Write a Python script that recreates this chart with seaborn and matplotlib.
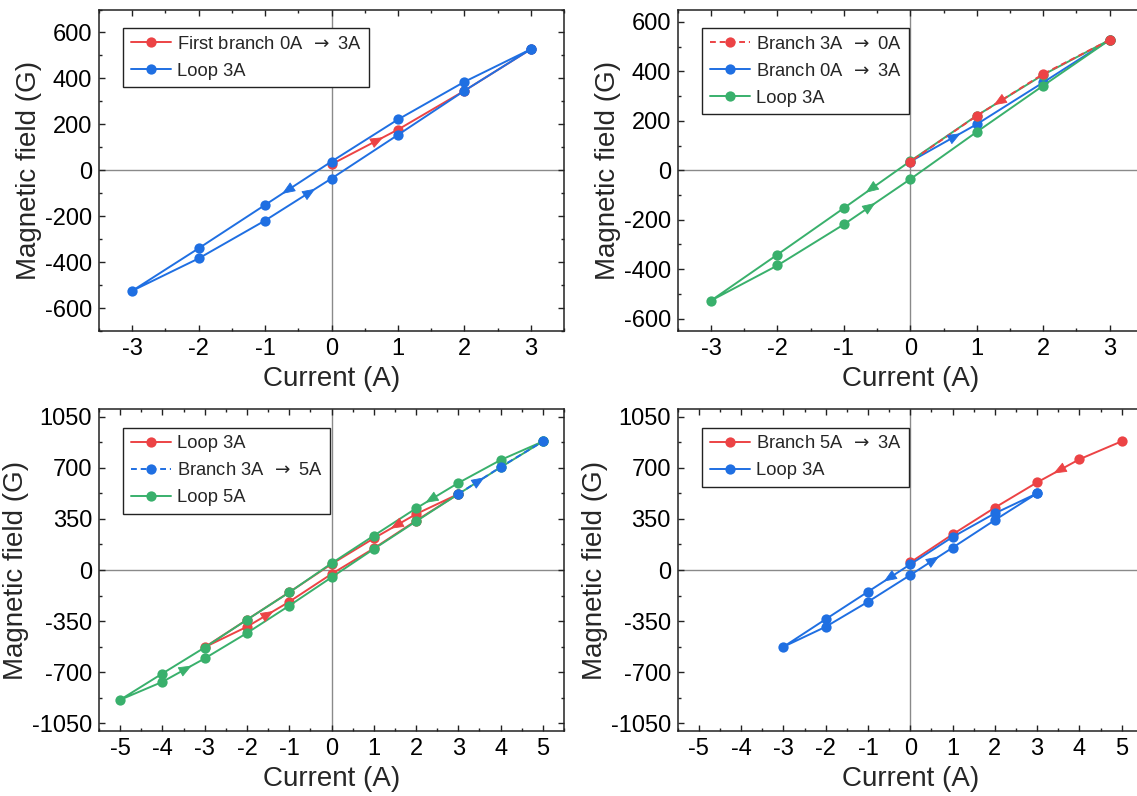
import numpy as np
import pandas as pd
import matplotlib
matplotlib.use("Agg")
import matplotlib.pyplot as plt
import seaborn as sns
from matplotlib.ticker import MultipleLocator

# ---------------------------------------------------------------- data
# Current sweep sequences (A)
loop3_current = [3, 2, 1, 0, -1, -2, -3, -2, -1, 0, 1, 2, 3]
loop5_current = [5, 4, 3, 2, 1, 0, -1, -2, -3, -4, -5, -4, -3, -2, -1, 0, 1, 2, 3, 4, 5]

# (a) first magnetisation branch and 3 A loop (G)
a_first_current = [0, 1, 2, 3]
a_first_field = [26, 177, 346, 527]
a_loop3_field = [527, 385, 221, 38, -151, -340, -525, -384, -219, -36, 154, 346, 527]

# (b) 3 A -> 0 A, 0 A -> 3 A branches and 3 A loop (G)
b_down_current = [3, 2, 1, 0]
b_down_field = [527, 389, 220, 35]
b_up_current = [0, 1, 2, 3]
b_up_field = [35, 186, 355, 527]
b_loop3_field = [527, 386, 221, 37, -153, -341, -527, -385, -219, -36, 155, 342, 527]

# (c) 3 A loop, 3 A -> 5 A branch and 5 A loop (G)
c_loop3_field = [520, 383, 217, 41, -152, -340, -528, -388, -217, -27, 148, 338, 520]
c_branch_current = [3, 4, 5]
c_branch_field = [520, 705, 880]
c_loop5_field = [880, 753, 596, 422, 235, 46, -153, -340, -530, -708, -888,
                 -765, -605, -431, -244, -50, 144, 333, 520, 703, 880]

# (d) 5 A -> 3 A branch and 3 A loop (G)
d_branch_current = [5, 4, 3, 2, 1, 0]
d_branch_field = [881, 758, 600, 427, 244, 52]
d_loop3_field = [525, 388, 226, 39, -148, -336, -525, -388, -217, -34, 153, 342, 525]

ARROW = r" $\,\rightarrow$ "
RED, BLUE, GREEN = "#EC4345", "#1F6FE2", "#39B06C"

# ---------------------------------------------------------------- style
sns.set_theme(style="ticks")
plt.rcParams["font.family"] = ["Liberation Sans", "DejaVu Sans"]
plt.rcParams["axes.unicode_minus"] = False
plt.rcParams["mathtext.fontset"] = "dejavusans"

fig = plt.figure(figsize=(11.37, 7.96), dpi=100)
W, H = 1137.0, 796.0


def make_axes(left_px, top_px, width_px=465.0, height_px=321.5):
    return fig.add_axes([left_px / W, 1 - (top_px + height_px) / H,
                         width_px / W, height_px / H])


def style_axes(ax, xlim, ylim, xmaj, ymaj):
    ax.set_xlim(*xlim)
    ax.set_ylim(*ylim)
    ax.xaxis.set_major_locator(MultipleLocator(xmaj))
    ax.xaxis.set_minor_locator(MultipleLocator(xmaj / 2))
    ax.yaxis.set_major_locator(MultipleLocator(ymaj))
    ax.yaxis.set_minor_locator(MultipleLocator(ymaj / 2))
    ax.tick_params(which="both", direction="in", top=True, right=True,
                   colors="#222222", width=1.0, labelsize=17, pad=5,
                   labelcolor="black")
    ax.tick_params(which="major", length=4.2)
    ax.tick_params(which="minor", length=2.4)
    for sp in ax.spines.values():
        sp.set_visible(True)
        sp.set_color("#222222")
        sp.set_linewidth(1.1)
    ax.axhline(0, color="#8a8a8a", lw=1.0, zorder=0.5)
    ax.axvline(0, color="#8a8a8a", lw=1.0, zorder=0.5)
    ax.set_xlabel("Current (A)", fontsize=20, labelpad=4.5)
    ax.set_ylabel("Magnetic field (G)", fontsize=20, labelpad=2)


def draw(ax, current, field, color, label, ls="-"):
    df = pd.DataFrame({"Current (A)": current, "Magnetic field (G)": field})
    sns.lineplot(data=df, x="Current (A)", y="Magnetic field (G)", sort=False,
                 estimator=None, ax=ax, color=color, linestyle=ls, lw=1.4,
                 marker="o", markersize=7.4, markeredgewidth=0,
                 markerfacecolor=color, label=label, legend=False)


def arrow(ax, current, field, seg, t, color):
    # filled triangular head sitting on segment `seg` at fraction t
    x0, y0 = current[seg], field[seg]
    x1, y1 = current[seg + 1], field[seg + 1]
    cx, cy = x0 + t * (x1 - x0), y0 + t * (y1 - y0)
    tr = ax.transData
    p0 = tr.transform((x0, y0))
    p1 = tr.transform((x1, y1))
    pc = tr.transform((cx, cy))
    d = (p1 - p0) / np.hypot(*(p1 - p0))
    tip = tr.inverted().transform(pc + 6.0 * d)
    tail = tr.inverted().transform(pc - 6.0 * d)
    ax.annotate("", xy=tip, xytext=tail,
                arrowprops=dict(arrowstyle="-|>,head_length=0.8,head_width=0.32",
                                mutation_scale=10.5, color=color, lw=0.6,
                                shrinkA=0, shrinkB=0), zorder=5)


def legend(ax, order):
    handles, labels = ax.get_legend_handles_labels()
    lut = dict(zip(labels, handles))
    lg = ax.legend([lut[k] for k in order], order, loc="upper left",
                   bbox_to_anchor=(0.052, 0.943), borderaxespad=0,
                   fontsize=13.2, frameon=True, fancybox=False, framealpha=1,
                   edgecolor="#222222", handlelength=2.2, handletextpad=0.3,
                   labelspacing=0.55, borderpad=0.42, numpoints=1)
    lg.get_frame().set_linewidth(1.0)


# ---------------------------------------------------------------- (a)
ax = make_axes(99, 9.5)
style_axes(ax, (-3.5, 3.5), (-700, 700), 1, 200)
lab_a1, lab_a2 = "First branch 0A" + ARROW + "3A", "Loop 3A"
draw(ax, a_first_current, a_first_field, RED, lab_a1)
draw(ax, loop3_current, a_loop3_field, BLUE, lab_a2)
legend(ax, [lab_a1, lab_a2])
arrow(ax, a_first_current, a_first_field, 0, 0.70, RED)
arrow(ax, loop3_current, a_loop3_field, 3, 0.67, BLUE)
arrow(ax, loop3_current, a_loop3_field, 8, 0.68, BLUE)

# ---------------------------------------------------------------- (b)
ax = make_axes(677.8, 9.5)
style_axes(ax, (-3.5, 3.5), (-650, 650), 1, 200)
lab_b1 = "Branch 3A" + ARROW + "0A"
lab_b2 = "Branch 0A" + ARROW + "3A"
lab_b3 = "Loop 3A"
draw(ax, b_up_current, b_up_field, BLUE, lab_b2)
draw(ax, loop3_current, b_loop3_field, GREEN, lab_b3)
draw(ax, b_down_current, b_down_field, RED, lab_b1, ls=(0, (3, 2)))
legend(ax, [lab_b1, lab_b2, lab_b3])
arrow(ax, b_down_current, b_down_field, 1, 0.67, RED)
arrow(ax, b_up_current, b_up_field, 0, 0.68, BLUE)
arrow(ax, loop3_current, b_loop3_field, 3, 0.60, GREEN)
arrow(ax, loop3_current, b_loop3_field, 8, 0.40, GREEN)

# ---------------------------------------------------------------- (c)
ax = make_axes(99, 409.3)
style_axes(ax, (-5.5, 5.5), (-1100, 1100), 1, 350)
lab_c1 = "Loop 3A"
lab_c2 = "Branch 3A" + ARROW + "5A"
lab_c3 = "Loop 5A"
draw(ax, loop3_current, c_loop3_field, RED, lab_c1)
draw(ax, loop5_current, c_loop5_field, GREEN, lab_c3)
draw(ax, c_branch_current, c_branch_field, BLUE, lab_c2, ls=(0, (3, 2)))
legend(ax, [lab_c1, lab_c2, lab_c3])
arrow(ax, loop3_current, c_loop3_field, 1, 0.48, RED)
arrow(ax, loop3_current, c_loop3_field, 7, 0.51, RED)
arrow(ax, c_branch_current, c_branch_field, 0, 0.50, BLUE)
arrow(ax, loop5_current, c_loop5_field, 2, 0.66, GREEN)
arrow(ax, loop5_current, c_loop5_field, 11, 0.57, GREEN)

# ---------------------------------------------------------------- (d)
ax = make_axes(677.8, 409.3)
style_axes(ax, (-5.5, 5.5), (-1100, 1100), 1, 350)
lab_d1 = "Branch 5A" + ARROW + "3A"
lab_d2 = "Loop 3A"
draw(ax, d_branch_current, d_branch_field, RED, lab_d1)
draw(ax, loop3_current, d_loop3_field, BLUE, lab_d2)
legend(ax, [lab_d1, lab_d2])
arrow(ax, d_branch_current, d_branch_field, 1, 0.49, RED)
arrow(ax, loop3_current, d_loop3_field, 3, 0.51, BLUE)
arrow(ax, loop3_current, d_loop3_field, 9, 0.56, BLUE)

fig.savefig("out.png", dpi=100)
